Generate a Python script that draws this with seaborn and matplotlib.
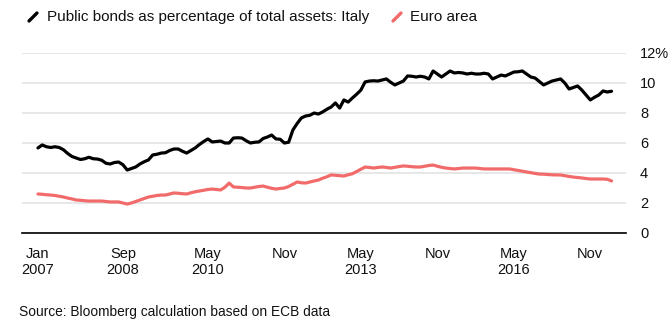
import matplotlib
matplotlib.use("Agg")
import matplotlib.pyplot as plt
from matplotlib.lines import Line2D
import seaborn as sns
import pandas as pd
import numpy as np

# Monthly series, Jan 2007 .. Apr 2018 (month index 0..135)
italy = [5.67, 5.87, 5.75, 5.7, 5.75, 5.7, 5.55, 5.3, 5.1, 5.0,
         4.9, 4.95, 5.05, 4.95, 4.93, 4.85, 4.65, 4.6, 4.7, 4.73,
         4.55, 4.2, 4.3, 4.4, 4.6, 4.75, 4.87, 5.2, 5.25, 5.33,
         5.35, 5.5, 5.6, 5.6, 5.45, 5.33, 5.5, 5.67, 5.9, 6.1,
         6.27, 6.07, 6.1, 6.13, 6.0, 6.0, 6.33, 6.35, 6.33, 6.15,
         6.0, 6.05, 6.07, 6.3, 6.4, 6.53, 6.27, 6.25, 6.0, 6.05,
         6.87, 7.3, 7.67, 7.8, 7.85, 8.0, 7.93, 8.07, 8.25, 8.4,
         8.67, 8.33, 8.87, 8.73, 9.0, 9.25, 9.53, 10.07, 10.13, 10.15,
         10.13, 10.2, 10.27, 10.05, 9.87, 10.0, 10.13, 10.47, 10.45, 10.4,
         10.45, 10.4, 10.27, 10.8, 10.6, 10.4, 10.6, 10.8, 10.67, 10.7,
         10.67, 10.6, 10.65, 10.6, 10.6, 10.65, 10.6, 10.27, 10.4, 10.53,
         10.47, 10.6, 10.73, 10.75, 10.8, 10.6, 10.4, 10.33, 10.1, 9.87,
         10.0, 10.13, 10.2, 10.27, 10.0, 9.6, 9.7, 9.8, 9.53, 9.2,
         8.87, 9.05, 9.2, 9.47, 9.4, 9.45]

euro = [2.6, 2.58, 2.55, 2.53, 2.5, 2.45, 2.4, 2.33, 2.27, 2.2,
        2.18, 2.15, 2.13, 2.13, 2.13, 2.13, 2.1, 2.07, 2.07, 2.07,
        2.0, 1.93, 2.0, 2.1, 2.2, 2.3, 2.4, 2.45, 2.5, 2.53,
        2.53, 2.6, 2.67, 2.65, 2.62, 2.6, 2.68, 2.75, 2.8, 2.85,
        2.9, 2.93, 2.9, 2.87, 3.05, 3.33, 3.07, 3.05, 3.03, 3.0,
        3.0, 3.05, 3.1, 3.13, 3.05, 2.98, 2.93, 2.97, 3.0, 3.1,
        3.25, 3.4, 3.35, 3.33, 3.4, 3.47, 3.53, 3.65, 3.75, 3.87,
        3.85, 3.82, 3.8, 3.88, 3.95, 4.1, 4.25, 4.4, 4.37, 4.33,
        4.37, 4.4, 4.37, 4.33, 4.38, 4.43, 4.47, 4.45, 4.42, 4.4,
        4.4, 4.45, 4.5, 4.53, 4.45, 4.38, 4.33, 4.3, 4.27, 4.3,
        4.33, 4.33, 4.33, 4.33, 4.3, 4.27, 4.27, 4.27, 4.27, 4.27,
        4.27, 4.27, 4.22, 4.17, 4.12, 4.07, 4.02, 3.97, 3.93, 3.92,
        3.9, 3.88, 3.87, 3.87, 3.82, 3.77, 3.73, 3.7, 3.67, 3.63,
        3.6, 3.6, 3.6, 3.6, 3.58, 3.47]

tick_months = [0, 20, 40, 58, 76, 94, 112, 130]
tick_labels = ["Jan\n2007", "Sep\n2008", "May\n2010", "Nov", "May\n2013",
               "Nov", "May\n2016", "Nov"]
y_ticks = [0, 2, 4, 6, 8, 10, 12]
y_labels = ["0", "2", "4", "6", "8", "10", "12%"]

series_names = ["Public bonds as percentage of total assets: Italy", "Euro area"]
colors = ["#000000", "#f26b6b"]

df = pd.DataFrame({
    "month": list(range(len(italy))) * 2,
    "value": italy + euro,
    "series": [series_names[0]] * len(italy) + [series_names[1]] * len(euro),
})

sns.set_theme(style="white")
plt.rcParams["font.family"] = ["Liberation Sans", "DejaVu Sans"]

fig = plt.figure(figsize=(6.72, 3.29), dpi=100)
ax = fig.add_axes([22 / 672, 1 - 233 / 329, (626 - 22) / 672, (233 - 53) / 329])

sns.lineplot(data=df, x="month", y="value", hue="series",
             palette=dict(zip(series_names, colors)), linewidth=2.3,
             legend=False, ax=ax)

ax.set_xlim(-3.76, 138.4)
ax.set_ylim(0, 12)
ax.set_xlabel("")
ax.set_ylabel("")

for s in ["top", "left", "right"]:
    ax.spines[s].set_visible(False)
ax.spines["bottom"].set_color("#000000")
ax.spines["bottom"].set_linewidth(1.2)

ax.yaxis.tick_right()
ax.set_yticks(y_ticks)
ax.set_yticklabels(y_labels)
ax.tick_params(axis="y", length=0, pad=10, labelsize=10.5, labelcolor="#111111")
for lab in ax.get_yticklabels():
    lab.set_horizontalalignment("left")
ax.grid(axis="y", color="#e0e0e0", linewidth=1.1)
ax.set_axisbelow(True)

ax.set_xticks(tick_months)
ax.set_xticklabels(tick_labels)
ax.tick_params(axis="x", length=4, width=0.9, color="#333333", direction="out",
               pad=6, labelsize=10.5, labelcolor="#111111")

# Legend at top
fig.add_artist(Line2D([29 / 672, 37 / 672], [1 - 21 / 329, 1 - 13 / 329],
                      color=colors[0], linewidth=2.4, transform=fig.transFigure))
fig.text(47 / 672, 1 - 17 / 329, series_names[0], fontsize=11,
         va="center", ha="left", color="#111111")
fig.add_artist(Line2D([393 / 672, 401 / 672], [1 - 21 / 329, 1 - 13 / 329],
                      color=colors[1], linewidth=2.4, transform=fig.transFigure))
fig.text(410 / 672, 1 - 17 / 329, series_names[1], fontsize=11,
         va="center", ha="left", color="#111111")

fig.text(19 / 672, 1 - 312 / 329, "Source: Bloomberg calculation based on ECB data",
         fontsize=9.9, va="center", ha="left", color="#111111")

fig.savefig("out.png", dpi=100)
